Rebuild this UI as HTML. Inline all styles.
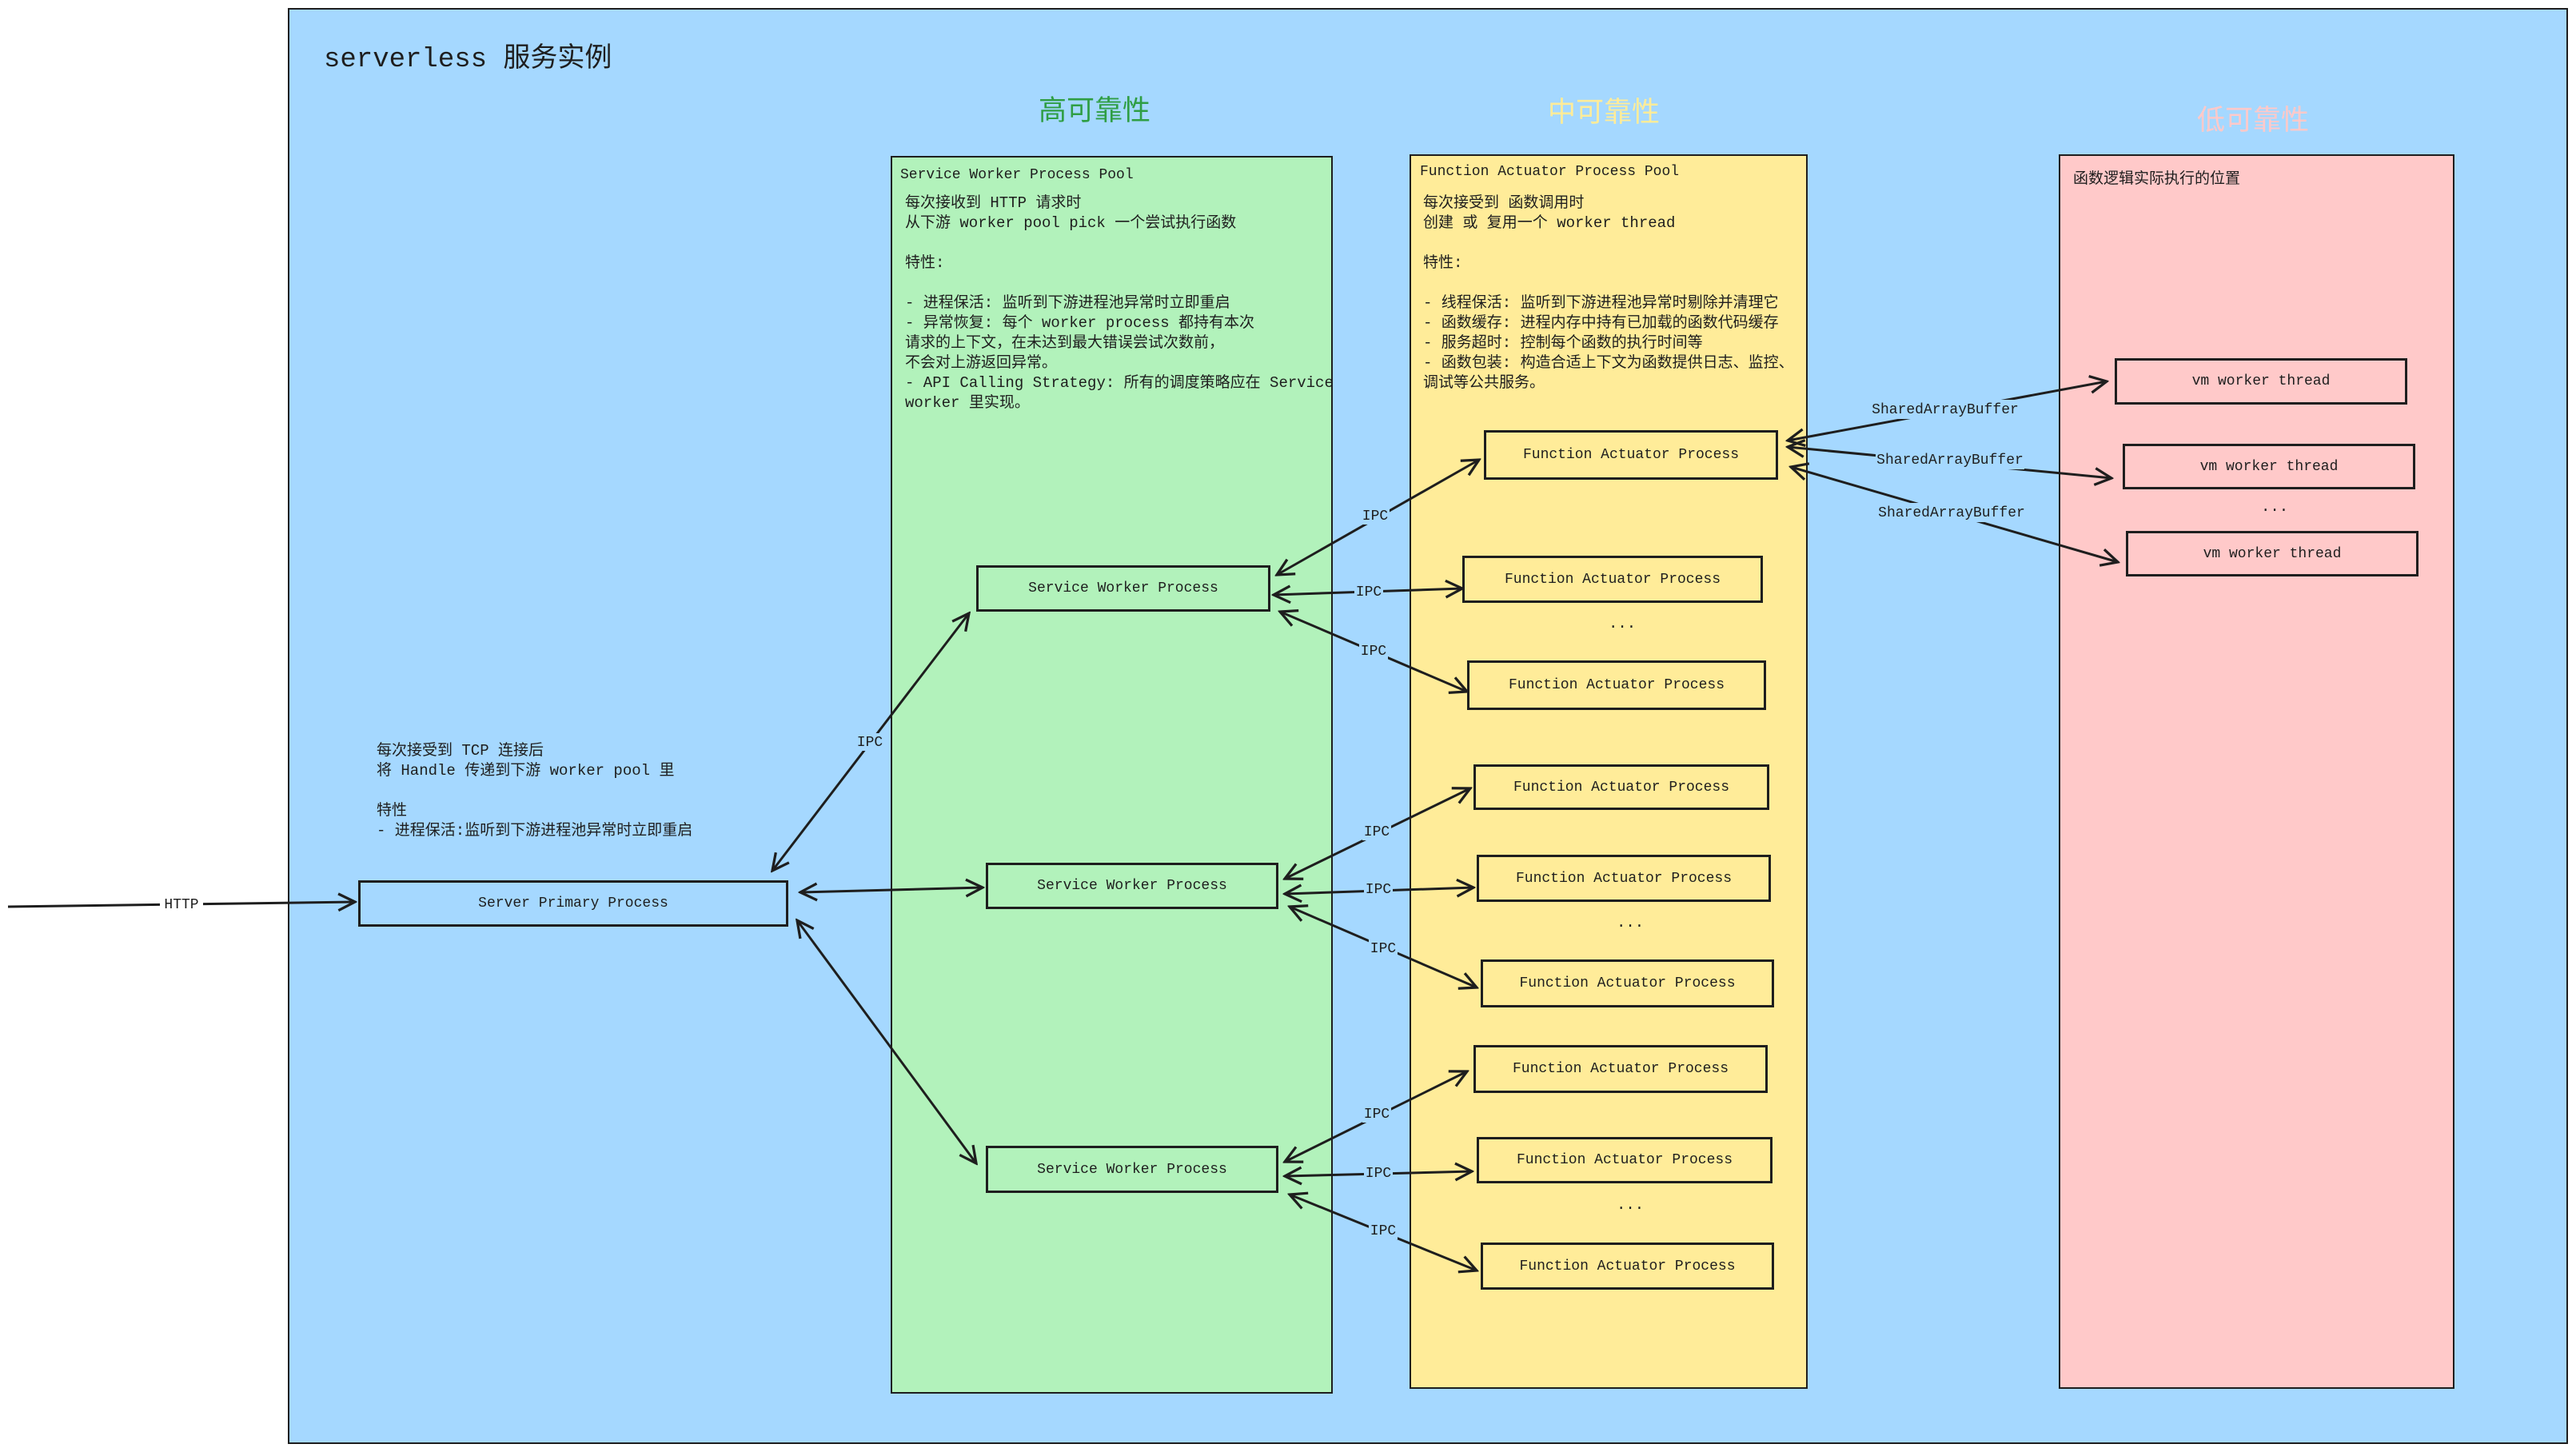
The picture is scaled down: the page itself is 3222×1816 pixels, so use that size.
<!DOCTYPE html>
<html><head><meta charset="utf-8"><style>
body{margin:0;width:3222px;height:1816px;position:relative;background:#fff;overflow:hidden;font-family:"Liberation Mono","Noto Sans CJK SC",monospace;color:#1e1e1e}
.a{position:absolute}
.pool{position:absolute;border:2px solid #1e1e1e;box-sizing:border-box}
.box{position:absolute;border:3px solid #1e1e1e;box-sizing:border-box;display:flex;align-items:center;justify-content:center;font-size:18px;white-space:nowrap}
.t{position:absolute;font-size:19px;line-height:25px;white-space:pre}
.h{position:absolute;font-size:35px;font-family:"Liberation Sans","Noto Sans CJK SC",sans-serif;white-space:nowrap}
.lbl{font-family:"Liberation Mono",monospace;font-size:18px;fill:#1e1e1e}
</style></head><body>
<div class="pool" style="left:360px;top:10px;width:2852px;height:1796px;background:#a5d8ff"></div>
<div class="a" style="left:405px;top:44px;font-size:34px;white-space:nowrap">serverless 服务实例</div>
<div class="h" style="left:1299px;top:110px;color:#2f9e44">高可靠性</div>
<div class="h" style="left:1936px;top:112px;color:#ffec99">中可靠性</div>
<div class="h" style="left:2748px;top:122px;color:#ffc9c9">低可靠性</div>

<div class="pool" style="left:1114px;top:195px;width:553px;height:1548px;background:#b2f2bb"></div>
<div class="pool" style="left:1763px;top:193px;width:498px;height:1544px;background:#ffec99"></div>
<div class="pool" style="left:2575px;top:193px;width:495px;height:1544px;background:#ffc9c9"></div>

<div class="t" style="left:1126px;top:207px;font-size:18px">Service Worker Process Pool</div>
<div class="t" style="left:1132px;top:242px">每次接收到 HTTP 请求时
从下游 worker pool pick 一个尝试执行函数

特性:

- 进程保活: 监听到下游进程池异常时立即重启
- 异常恢复: 每个 worker process 都持有本次
请求的上下文，在未达到最大错误尝试次数前，
不会对上游返回异常。
- API Calling Strategy: 所有的调度策略应在 Service
worker 里实现。</div>

<div class="t" style="left:1776px;top:203px;font-size:18px">Function Actuator Process Pool</div>
<div class="t" style="left:1780px;top:242px">每次接受到 函数调用时
创建 或 复用一个 worker thread

特性:

- 线程保活: 监听到下游进程池异常时剔除并清理它
- 函数缓存: 进程内存中持有已加载的函数代码缓存
- 服务超时: 控制每个函数的执行时间等
- 函数包装: 构造合适上下文为函数提供日志、监控、
调试等公共服务。</div>

<div class="t" style="left:2593px;top:212px">函数逻辑实际执行的位置</div>

<div class="t" style="left:471px;top:927px">每次接受到 TCP 连接后
将 Handle 传递到下游 worker pool 里

特性
- 进程保活:监听到下游进程池异常时立即重启</div>

<div class="box" style="left:448px;top:1101px;width:538px;height:58px">Server Primary Process</div>
<div class="box" style="left:1221px;top:707px;width:368px;height:58px">Service Worker Process</div>
<div class="box" style="left:1233px;top:1079px;width:366px;height:58px">Service Worker Process</div>
<div class="box" style="left:1233px;top:1433px;width:366px;height:59px">Service Worker Process</div>

<div class="box" style="left:1856px;top:538px;width:368px;height:62px">Function Actuator Process</div>
<div class="box" style="left:1829px;top:695px;width:376px;height:59px">Function Actuator Process</div>
<div class="box" style="left:1835px;top:826px;width:374px;height:62px">Function Actuator Process</div>
<div class="box" style="left:1843px;top:956px;width:370px;height:57px">Function Actuator Process</div>
<div class="box" style="left:1847px;top:1069px;width:368px;height:59px">Function Actuator Process</div>
<div class="box" style="left:1852px;top:1200px;width:367px;height:60px">Function Actuator Process</div>
<div class="box" style="left:1843px;top:1307px;width:368px;height:60px">Function Actuator Process</div>
<div class="box" style="left:1847px;top:1422px;width:370px;height:58px">Function Actuator Process</div>
<div class="box" style="left:1852px;top:1554px;width:367px;height:59px">Function Actuator Process</div>

<div class="box" style="left:2645px;top:448px;width:366px;height:58px">vm worker thread</div>
<div class="box" style="left:2655px;top:555px;width:366px;height:57px">vm worker thread</div>
<div class="box" style="left:2659px;top:664px;width:366px;height:57px">vm worker thread</div>

<div class="t" style="left:2012px;top:768px">...</div>
<div class="t" style="left:2022px;top:1142px">...</div>
<div class="t" style="left:2022px;top:1495px">...</div>
<div class="t" style="left:2828px;top:622px">...</div>

<svg class="a" style="left:0;top:0" width="3222" height="1816">
<defs><marker id="m" viewBox="0 0 20 20" refX="18" refY="10" markerWidth="26" markerHeight="26" markerUnits="userSpaceOnUse" orient="auto-start-reverse"><path d="M2 2 L18 10 L2 18" fill="none" stroke="#1e1e1e" stroke-width="2.5"/></marker></defs>
<g stroke="#1e1e1e" stroke-width="3" fill="none">
<line x1="10" y1="1134" x2="444" y2="1128" marker-end="url(#m)"/>
<line x1="966" y1="1089" x2="1212" y2="767" marker-start="url(#m)" marker-end="url(#m)"/>
<line x1="1001" y1="1116" x2="1229" y2="1110" marker-start="url(#m)" marker-end="url(#m)"/>
<line x1="997" y1="1151" x2="1221" y2="1455" marker-start="url(#m)" marker-end="url(#m)"/>
<line x1="1597" y1="719" x2="1850" y2="575" marker-start="url(#m)" marker-end="url(#m)"/>
<line x1="1593" y1="744" x2="1829" y2="736" marker-start="url(#m)" marker-end="url(#m)"/>
<line x1="1601" y1="765" x2="1835" y2="865" marker-start="url(#m)" marker-end="url(#m)"/>
<line x1="1607" y1="1099" x2="1839" y2="986" marker-start="url(#m)" marker-end="url(#m)"/>
<line x1="1607" y1="1118" x2="1843" y2="1110" marker-start="url(#m)" marker-end="url(#m)"/>
<line x1="1613" y1="1134" x2="1847" y2="1235" marker-start="url(#m)" marker-end="url(#m)"/>
<line x1="1607" y1="1453" x2="1835" y2="1340" marker-start="url(#m)" marker-end="url(#m)"/>
<line x1="1607" y1="1471" x2="1841" y2="1465" marker-start="url(#m)" marker-end="url(#m)"/>
<line x1="1613" y1="1494" x2="1847" y2="1589" marker-start="url(#m)" marker-end="url(#m)"/>
<line x1="2236" y1="551" x2="2635" y2="477" marker-start="url(#m)" marker-end="url(#m)"/>
<line x1="2236" y1="559" x2="2641" y2="598" marker-start="url(#m)" marker-end="url(#m)"/>
<line x1="2240" y1="584" x2="2649" y2="703" marker-start="url(#m)" marker-end="url(#m)"/>
</g>
<g class="lbl" text-anchor="middle" dominant-baseline="middle">
<rect x="200" y="1120" width="54" height="20" fill="#fff"/><text x="227" y="1131">HTTP</text>
<rect x="1070" y="917" width="36" height="22" fill="#a5d8ff"/><text x="1088" y="928">IPC</text>
<rect x="1702" y="634" width="36" height="22" fill="#a5d8ff"/><text x="1720" y="645">IPC</text>
<rect x="1694" y="729" width="36" height="22" fill="#a5d8ff"/><text x="1712" y="740">IPC</text>
<rect x="1700" y="803" width="36" height="22" fill="#a5d8ff"/><text x="1718" y="814">IPC</text>
<rect x="1704" y="1029" width="36" height="22" fill="#a5d8ff"/><text x="1722" y="1040">IPC</text>
<rect x="1706" y="1101" width="36" height="22" fill="#a5d8ff"/><text x="1724" y="1112">IPC</text>
<rect x="1712" y="1175" width="36" height="22" fill="#a5d8ff"/><text x="1730" y="1186">IPC</text>
<rect x="1704" y="1382" width="36" height="22" fill="#a5d8ff"/><text x="1722" y="1393">IPC</text>
<rect x="1706" y="1456" width="36" height="22" fill="#a5d8ff"/><text x="1724" y="1467">IPC</text>
<rect x="1712" y="1528" width="36" height="22" fill="#a5d8ff"/><text x="1730" y="1539">IPC</text>
<rect x="2340" y="500" width="186" height="24" fill="#a5d8ff"/><text x="2433" y="512">SharedArrayBuffer</text>
<rect x="2346" y="563" width="186" height="24" fill="#a5d8ff"/><text x="2439" y="575">SharedArrayBuffer</text>
<rect x="2348" y="629" width="186" height="24" fill="#a5d8ff"/><text x="2441" y="641">SharedArrayBuffer</text>
</g>
</svg>
</body></html>
